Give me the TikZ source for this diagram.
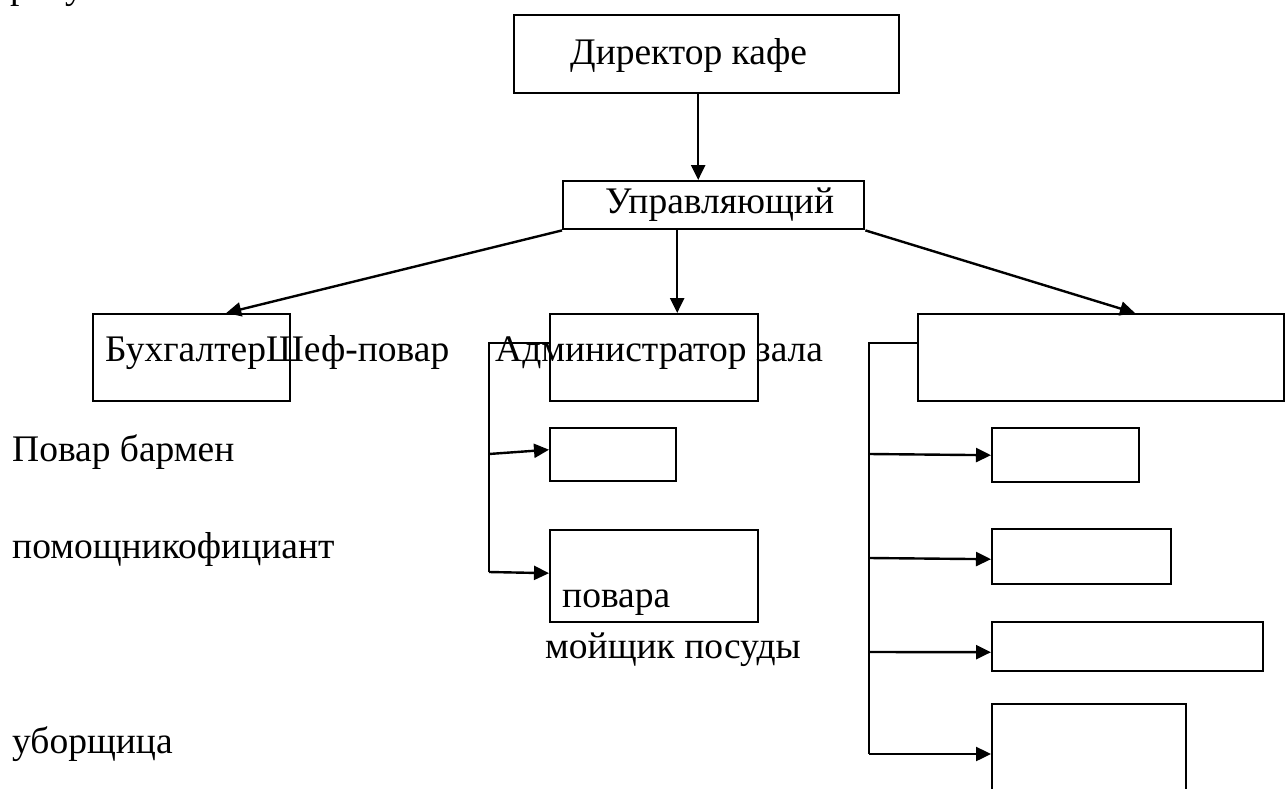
\documentclass[tikz,border=0pt]{standalone}
\usepackage{fontspec}
\setmainfont{Liberation Serif}
\usetikzlibrary{arrows.meta}
\newcommand{\fsz}{\fontsize{37.5}{42}\selectfont}
\begin{document}
\begin{tikzpicture}[x=1pt,y=-1pt,
  box/.style={draw, line width=2.4pt, inner sep=0pt, anchor=north west},
  lbl/.style={anchor=base west, inner sep=0pt, font=\fsz},
  arr/.style={line width=2.4pt, -{Triangle[length=15pt,width=14pt]}},
  ln/.style={line width=2.4pt}]
\useasboundingbox (0,0) rectangle (1285,789);
% partially visible line of text above the figure
\node[lbl] (top) at (10,-1.5) {рисунке 3.2};
% boxes
\node[box, minimum width=385pt, minimum height=78pt] (dir) at (513,14) {};
\node[box, minimum width=301pt, minimum height=48pt] (man) at (562,180) {};
\node[box, minimum width=197pt, minimum height=87pt] (buh) at (92,313) {};
\node[box, minimum width=208pt, minimum height=87pt] (adm) at (549,313) {};
\node[box, minimum width=126pt, minimum height=53pt] (a2) at (549,427) {};
\node[box, minimum width=208pt, minimum height=92pt] (a3) at (549,529) {};
\node[box, minimum width=366pt, minimum height=87pt] (big) at (917,313) {};
\node[box, minimum width=147pt, minimum height=54pt] (r1) at (991,427) {};
\node[box, minimum width=179pt, minimum height=55pt] (r2) at (991,528) {};
\node[box, minimum width=271pt, minimum height=49pt] (r3) at (991,621) {};
\node[box, minimum width=194pt, minimum height=110pt] (r4) at (991,703) {};
% texts
\node[lbl] (tdir) at (570,65) {Директор кафе};
\node[lbl] (tman) at (605,213) {Управляющий};
\node[lbl] (tbuh) at (105,361) {БухгалтерШеф-повар};
\node[lbl] (tadm) at (495,361) {Администратор зала};
\node[lbl] (tpov) at (562,607) {повара};
\node[lbl] (tmoj) at (545,658) {мойщик посуды};
\node[lbl] (tbar) at (12,461) {Повар бармен};
\node[lbl] (toff) at (12,558) {помощникофициант};
\node[lbl] (tubo) at (12,753) {уборщица};
% main connectors
\draw[arr] ([xshift=-8.5pt]dir.south) -- ([xshift=-15.5pt]man.north);
\draw[arr] (man.south west) -- ([xshift=34.5pt]buh.north);
\draw[arr] ([xshift=-36.5pt]man.south) -- ([xshift=23pt]adm.north);
\draw[arr] (man.south east) -- ([xshift=218pt]big.north west);
% left bracket
\coordinate (lt) at (489,343);
\coordinate (l2) at (489,454);
\coordinate (lb) at (489,572);
\draw[ln] ([yshift=-30pt]adm.north west) -- (lt) -- (lb);
\draw[arr] (l2) -- ([yshift=5pt]a2.west);
\draw[arr] (lb) -- ([yshift=3pt]a3.west);
% right bracket
\coordinate (rt) at (869,343);
\coordinate (q1) at (869,454);
\coordinate (q2) at (869,558);
\coordinate (q3) at (869,652);
\coordinate (rb) at (869,754);
\draw[ln] ([yshift=-30pt]big.north west) -- (rt) -- (rb);
\draw[arr] (q1) -- (r1.west);
\draw[arr] (q2) -- ([yshift=-2.5pt]r2.west);
\draw[arr] (q3) -- ([yshift=-5.5pt]r3.west);
\draw[arr] (rb) -- ([yshift=-51pt]r4.north west);
\end{tikzpicture}
\end{document}
